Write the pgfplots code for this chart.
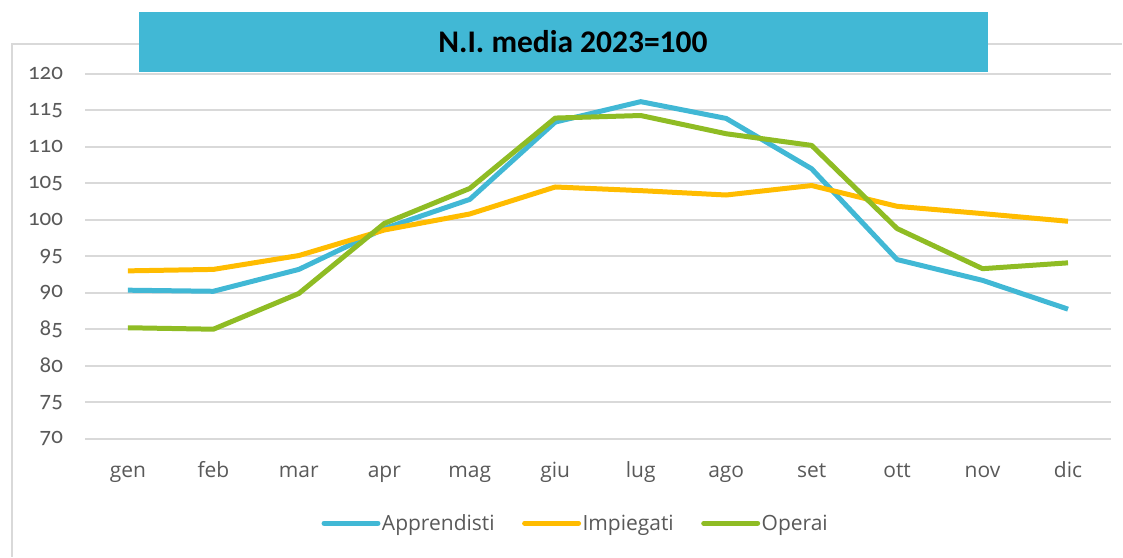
\documentclass[border=0pt]{standalone}
\usepackage{fontspec}
\setmainfont{Open Sans}
\newfontfamily\titlefont{Carlito}
\newfontfamily\numfont[Numbers=OldStyle]{Carlito}
\usepackage{pgfplots}
\pgfplotsset{compat=1.18}
\definecolor{cblue}{RGB}{65,184,213}
\definecolor{corange}{RGB}{255,188,0}
\definecolor{cgreen}{RGB}{143,188,36}
\definecolor{ctext}{RGB}{89,89,89}
\definecolor{cgrid}{RGB}{217,217,217}
\begin{document}
\begin{tikzpicture}[x=1pt,y=1pt]
\path (0,0) rectangle (1123,557);
\draw[cgrid, line width=2pt] (12,0) -- (12,513) -- (1123,513);
\begin{axis}[
  at={(85.25pt,118pt)}, anchor=south west,
  scale only axis, width=1026.5pt, height=365pt,
  xmin=-0.5, xmax=11.5, ymin=70, ymax=120,
  xtick={0,...,11},
  xticklabels={gen,feb,mar,apr,mag,giu,lug,ago,set,ott,nov,dic},
  ytick={70,75,...,120},
  ymajorgrids, grid style={cgrid, line width=2pt},
  axis line style={draw=none},
  major tick length=0pt,
  tick label style={text=ctext},
  xticklabel style={font=\fontsize{21}{25}\selectfont, anchor=base, inner sep=0pt, yshift=-39pt},
  yticklabel style={font=\fontsize{23}{27}\selectfont\numfont, anchor=east, inner sep=0pt, xshift=-22pt},
  /pgf/number format/assume math mode=true,
  legend columns=3,
  legend style={at={(0.478,-0.232)}, anchor=center, draw=none, fill=none,
    font=\fontsize{21}{25}\selectfont, text=ctext, inner sep=0pt,
    nodes={inner sep=1.5pt},
    /tikz/every even column/.append style={column sep=26pt}},
  legend image code/.code={\draw[#1, line width=5pt, line cap=round] (0pt,0pt) -- (54pt,0pt);},
  every axis plot/.append style={line width=5pt, line join=round, no markers},
  clip=false
]
\addplot[cblue] coordinates {(0,90.35) (1,90.2) (2,93.2) (3,98.8) (4,102.8) (5,113.4) (6,116.2) (7,113.9) (8,107.0) (9,94.55) (10,91.7) (11,87.75)};
\addlegendentry{Apprendisti}
\addplot[corange] coordinates {(0,93.0) (1,93.2) (2,95.1) (3,98.6) (4,100.8) (5,104.5) (6,104.0) (7,103.4) (8,104.7) (9,101.85) (10,100.85) (11,99.8)};
\addlegendentry{Impiegati}
\addplot[cgreen] coordinates {(0,85.2) (1,85.0) (2,89.9) (3,99.5) (4,104.3) (5,113.95) (6,114.3) (7,111.8) (8,110.2) (9,98.8) (10,93.3) (11,94.1)};
\addlegendentry{Operai}
\end{axis}
\fill[cblue] (139,485) rectangle (989,545);
\node[font=\fontsize{31.5}{37}\selectfont\titlefont\bfseries, text=black] at (573.5,515) {N.I. media 2023=100};
\end{tikzpicture}
\end{document}
